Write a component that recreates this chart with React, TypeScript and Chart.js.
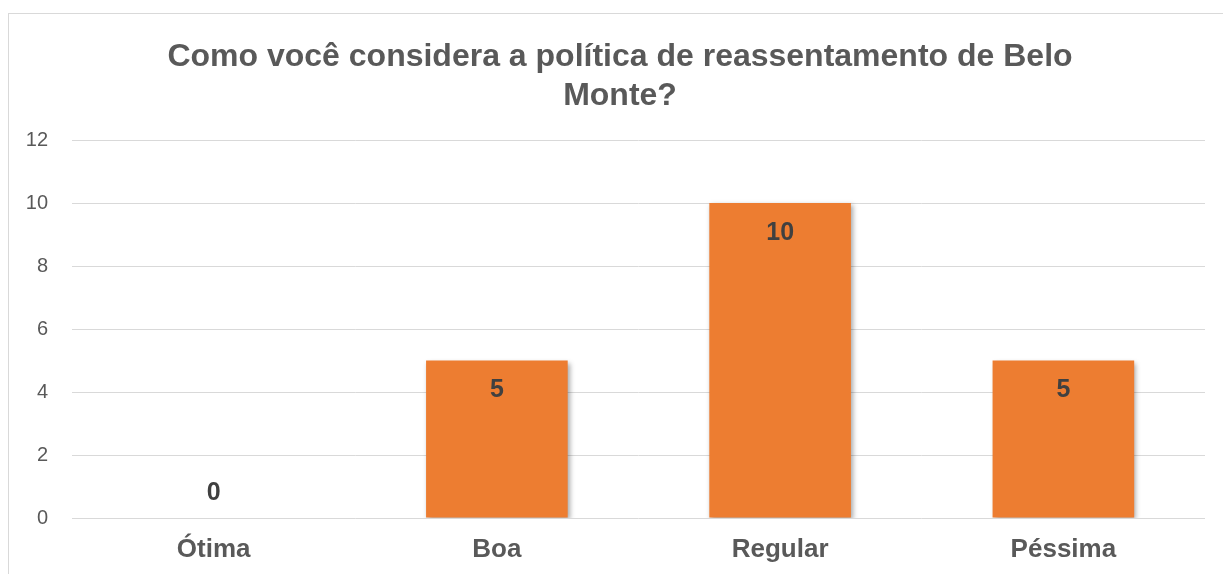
import React, { useEffect, useRef } from "react";
import { Chart, registerables } from "chart.js";

Chart.register(...registerables);

const titleLines = ["Como você considera a política de reassentamento de Belo", "Monte?"];
const categories = ["Ótima", "Boa", "Regular", "Péssima"];
const values = [0, 5, 10, 5];
const yTicks = [0, 2, 4, 6, 8, 10, 12];

const BAR = "#ED7D31";
const TEXT = "#595959";
const LABEL = "#404040";
const FONT = "'Liberation Sans', Arial, sans-serif";

export default function App() {
  const ref = useRef<HTMLCanvasElement | null>(null);

  useEffect(() => {
    if (!ref.current) return;

    const titlePlugin = {
      id: "customTitle",
      afterDraw(chart: any) {
        const ctx = chart.ctx;
        ctx.save();
        ctx.fillStyle = TEXT;
        ctx.font = `bold 32px ${FONT}`;
        ctx.textAlign = "center";
        ctx.textBaseline = "alphabetic";
        ctx.fillText(titleLines[0], 611, 52);
        ctx.fillText(titleLines[1], 611, 91);
        ctx.restore();
      },
    };

    const shadowPlugin = {
      id: "barShadow",
      beforeDatasetsDraw(chart: any) {
        const ctx = chart.ctx;
        ctx.save();
        ctx.shadowColor = "rgba(0,0,0,0.35)";
        ctx.shadowBlur = 5;
        ctx.shadowOffsetX = 2;
        ctx.shadowOffsetY = 2;
      },
      afterDatasetsDraw(chart: any) {
        chart.ctx.restore();
      },
    };

    const labelPlugin = {
      id: "valueLabels",
      afterDatasetsDraw(chart: any) {
        const ctx = chart.ctx;
        const meta = chart.getDatasetMeta(0);
        ctx.save();
        ctx.fillStyle = LABEL;
        ctx.font = `bold 25px ${FONT}`;
        ctx.textAlign = "center";
        ctx.textBaseline = "middle";
        meta.data.forEach((bar: any, i: number) => {
          const v = values[i];
          const y = v > 0 ? bar.y + 30 : bar.y - 25;
          ctx.fillText(String(v), bar.x, y);
        });
        ctx.restore();
      },
    };

    const chart = new Chart(ref.current, {
      type: "bar",
      data: {
        labels: categories,
        datasets: [
          {
            data: values,
            backgroundColor: BAR,
            borderWidth: 0,
            categoryPercentage: 1,
            barPercentage: 0.5,
          },
        ],
      },
      options: {
        animation: false,
        responsive: false,
        maintainAspectRatio: false,
        layout: { padding: { top: 126, right: 18, left: 0, bottom: 0 } },
        plugins: {
          legend: { display: false },
          title: { display: false },
          tooltip: { enabled: false },
        },
        scales: {
          x: {
            grid: { display: false, drawTicks: false },
            border: { display: false },
            ticks: {
              color: TEXT,
              font: { family: FONT, size: 26, weight: "bold" },
              padding: 16,
            },
            afterFit: (s: any) => {
              s.height = 56;
            },
          },
          y: {
            min: 0,
            max: 12,
            afterBuildTicks: (s: any) => {
              s.ticks = yTicks.map((v) => ({ value: v }));
            },
            grid: { color: "#d9d9d9", lineWidth: 1, drawTicks: false },
            border: { display: false },
            ticks: {
              color: TEXT,
              font: { family: FONT, size: 20 },
              padding: 24,
            },
            afterFit: (s: any) => {
              s.width = 63;
            },
          },
        },
      },
      plugins: [shadowPlugin, labelPlugin, titlePlugin],
    });

    return () => chart.destroy();
  }, []);

  return (
    <div
      style={{
        position: "absolute",
        left: 8,
        top: 13,
        width: 1215,
        height: 561,
        borderTop: "1px solid #d9d9d9",
        borderLeft: "1px solid #d9d9d9",
        overflow: "hidden",
        background: "#fff",
      }}
    >
      <canvas ref={ref} width={1214} height={560} style={{ display: "block" }} />
    </div>
  );
}
